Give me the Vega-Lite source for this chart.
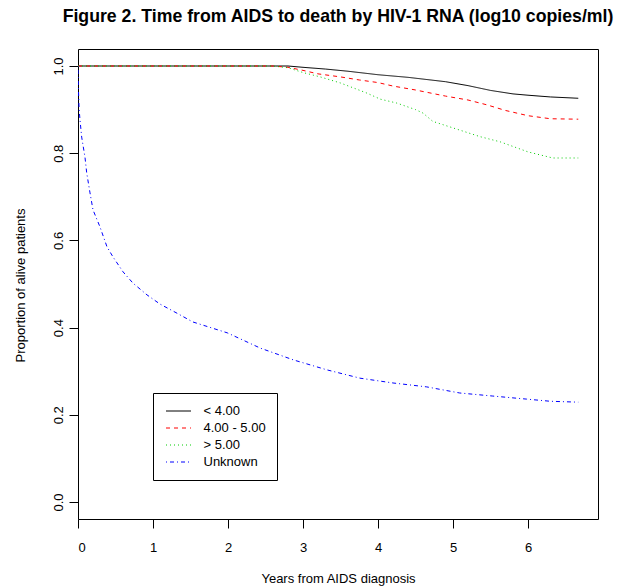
{
  "$schema": "https://vega.github.io/schema/vega-lite/v6.json",
  "width": 520,
  "height": 470,
  "autosize": {"type": "none"},
  "padding": {"left": 78, "top": 49, "right": 24, "bottom": 69},
  "background": "white",
  "title": {
    "text": "Figure 2. Time from AIDS to death by HIV-1 RNA (log10 copies/ml)",
    "font": "Liberation Sans",
    "fontSize": 17.7,
    "fontWeight": "bold",
    "color": "black",
    "anchor": "middle",
    "offset": 23
  },
  "config": {
    "view": {"stroke": "black", "strokeWidth": 1},
    "font": "Liberation Sans",
    "axis": {
      "grid": false,
      "domain": false,
      "tickColor": "black",
      "tickSize": 9,
      "labelColor": "black",
      "labelFont": "Liberation Sans",
      "labelFontSize": 13,
      "titleFont": "Liberation Sans",
      "titleFontSize": 13,
      "titleFontWeight": "normal",
      "titleColor": "black"
    }
  },
  "datasets": {
    "curves": [
      {"t": 0, "s": 1, "g": "< 4.00"},
      {"t": 2.8, "s": 1, "g": "< 4.00"},
      {"t": 3.0, "s": 0.997, "g": "< 4.00"},
      {"t": 3.3, "s": 0.993, "g": "< 4.00"},
      {"t": 3.6, "s": 0.988, "g": "< 4.00"},
      {"t": 4.0, "s": 0.98, "g": "< 4.00"},
      {"t": 4.4, "s": 0.974, "g": "< 4.00"},
      {"t": 4.9, "s": 0.964, "g": "< 4.00"},
      {"t": 5.2, "s": 0.955, "g": "< 4.00"},
      {"t": 5.5, "s": 0.944, "g": "< 4.00"},
      {"t": 5.8, "s": 0.936, "g": "< 4.00"},
      {"t": 6.0, "s": 0.933, "g": "< 4.00"},
      {"t": 6.3, "s": 0.929, "g": "< 4.00"},
      {"t": 6.67, "s": 0.926, "g": "< 4.00"},
      {"t": 0, "s": 1, "g": "4.00 - 5.00"},
      {"t": 2.6, "s": 1, "g": "4.00 - 5.00"},
      {"t": 2.8, "s": 0.997, "g": "4.00 - 5.00"},
      {"t": 3.0, "s": 0.99, "g": "4.00 - 5.00"},
      {"t": 3.2, "s": 0.982, "g": "4.00 - 5.00"},
      {"t": 3.5, "s": 0.975, "g": "4.00 - 5.00"},
      {"t": 3.75, "s": 0.968, "g": "4.00 - 5.00"},
      {"t": 4.0, "s": 0.962, "g": "4.00 - 5.00"},
      {"t": 4.2, "s": 0.954, "g": "4.00 - 5.00"},
      {"t": 4.5, "s": 0.945, "g": "4.00 - 5.00"},
      {"t": 4.9, "s": 0.931, "g": "4.00 - 5.00"},
      {"t": 5.2, "s": 0.922, "g": "4.00 - 5.00"},
      {"t": 5.45, "s": 0.911, "g": "4.00 - 5.00"},
      {"t": 5.7, "s": 0.898, "g": "4.00 - 5.00"},
      {"t": 6.0, "s": 0.886, "g": "4.00 - 5.00"},
      {"t": 6.3, "s": 0.879, "g": "4.00 - 5.00"},
      {"t": 6.67, "s": 0.878, "g": "4.00 - 5.00"},
      {"t": 0, "s": 1, "g": "> 5.00"},
      {"t": 2.6, "s": 1, "g": "> 5.00"},
      {"t": 2.8, "s": 0.996, "g": "> 5.00"},
      {"t": 3.0, "s": 0.985, "g": "> 5.00"},
      {"t": 3.23, "s": 0.975, "g": "> 5.00"},
      {"t": 3.5, "s": 0.961, "g": "> 5.00"},
      {"t": 3.85, "s": 0.938, "g": "> 5.00"},
      {"t": 4.03, "s": 0.924, "g": "> 5.00"},
      {"t": 4.25, "s": 0.915, "g": "> 5.00"},
      {"t": 4.5, "s": 0.9, "g": "> 5.00"},
      {"t": 4.6, "s": 0.892, "g": "> 5.00"},
      {"t": 4.73, "s": 0.873, "g": "> 5.00"},
      {"t": 5.0, "s": 0.858, "g": "> 5.00"},
      {"t": 5.36, "s": 0.838, "g": "> 5.00"},
      {"t": 5.63, "s": 0.826, "g": "> 5.00"},
      {"t": 6.0, "s": 0.803, "g": "> 5.00"},
      {"t": 6.33, "s": 0.789, "g": "> 5.00"},
      {"t": 6.67, "s": 0.789, "g": "> 5.00"},
      {"t": 0, "s": 1, "g": "Unknown"},
      {"t": 0.005, "s": 0.95, "g": "Unknown"},
      {"t": 0.015, "s": 0.9, "g": "Unknown"},
      {"t": 0.027, "s": 0.876, "g": "Unknown"},
      {"t": 0.049, "s": 0.837, "g": "Unknown"},
      {"t": 0.093, "s": 0.791, "g": "Unknown"},
      {"t": 0.116, "s": 0.755, "g": "Unknown"},
      {"t": 0.16, "s": 0.709, "g": "Unknown"},
      {"t": 0.2, "s": 0.67, "g": "Unknown"},
      {"t": 0.293, "s": 0.631, "g": "Unknown"},
      {"t": 0.387, "s": 0.585, "g": "Unknown"},
      {"t": 0.467, "s": 0.562, "g": "Unknown"},
      {"t": 0.6, "s": 0.528, "g": "Unknown"},
      {"t": 0.733, "s": 0.502, "g": "Unknown"},
      {"t": 0.92, "s": 0.475, "g": "Unknown"},
      {"t": 1.093, "s": 0.454, "g": "Unknown"},
      {"t": 1.32, "s": 0.433, "g": "Unknown"},
      {"t": 1.53, "s": 0.413, "g": "Unknown"},
      {"t": 1.99, "s": 0.388, "g": "Unknown"},
      {"t": 2.43, "s": 0.353, "g": "Unknown"},
      {"t": 2.87, "s": 0.326, "g": "Unknown"},
      {"t": 3.32, "s": 0.303, "g": "Unknown"},
      {"t": 3.76, "s": 0.284, "g": "Unknown"},
      {"t": 4.2, "s": 0.273, "g": "Unknown"},
      {"t": 4.65, "s": 0.264, "g": "Unknown"},
      {"t": 5.09, "s": 0.25, "g": "Unknown"},
      {"t": 5.53, "s": 0.243, "g": "Unknown"},
      {"t": 5.98, "s": 0.236, "g": "Unknown"},
      {"t": 6.3, "s": 0.231, "g": "Unknown"},
      {"t": 6.67, "s": 0.229, "g": "Unknown"}
    ]
  },
  "layer": [
    {
      "data": {"name": "curves"},
      "mark": {"type": "line", "strokeWidth": 1, "clip": true},
      "encoding": {
        "x": {
          "field": "t",
          "type": "quantitative",
          "scale": {"domain": [0, 6.933], "nice": false, "zero": false},
          "axis": {
            "values": [0, 1, 2, 3, 4, 5, 6],
            "format": "d",
            "labelPadding": 13,
            "title": "Years from AIDS diagnosis",
            "titleX": 260,
            "titleY": 59,
            "titleBaseline": "middle",
            "titleAlign": "center"
          }
        },
        "y": {
          "field": "s",
          "type": "quantitative",
          "scale": {"domain": [-0.039, 1.039], "nice": false, "zero": false},
          "axis": {
            "values": [0, 0.2, 0.4, 0.6, 0.8, 1.0],
            "format": ".1f",
            "labelAngle": 270,
            "labelAlign": "center",
            "labelBaseline": "bottom",
            "labelPadding": 4,
            "title": "Proportion of alive patients",
            "titleX": -58,
            "titleY": 236,
            "titleAngle": 270,
            "titleBaseline": "middle",
            "titleAlign": "center"
          }
        },
        "color": {
          "field": "g",
          "type": "nominal",
          "scale": {
            "domain": ["< 4.00", "4.00 - 5.00", "> 5.00", "Unknown"],
            "range": ["#000000", "#FF0000", "#00CC00", "#0000FF"]
          },
          "legend": {
            "orient": "none",
            "legendX": 75,
            "legendY": 344,
            "title": null,
            "strokeColor": "black",
            "fillColor": "white",
            "padding": 11,
            "symbolType": "M-2,0L2,0",
            "symbolSize": 156,
            "symbolOffset": 7.5,
            "symbolStrokeWidth": 1,
            "labelFont": "Liberation Sans",
            "labelFontSize": 13,
            "labelColor": "black",
            "labelOffset": 18,
            "rowPadding": 3
          }
        },
        "strokeDash": {
          "field": "g",
          "type": "nominal",
          "scale": {
            "domain": ["< 4.00", "4.00 - 5.00", "> 5.00", "Unknown"],
            "range": [[1, 0], [4, 4], [1, 3], [1, 3, 4, 3]]
          },
          "legend": {
            "orient": "none",
            "legendX": 75,
            "legendY": 344,
            "title": null,
            "strokeColor": "black",
            "fillColor": "white",
            "padding": 11,
            "symbolType": "M-2,0L2,0",
            "symbolSize": 156,
            "symbolOffset": 7.5,
            "symbolStrokeWidth": 1,
            "labelFont": "Liberation Sans",
            "labelFontSize": 13,
            "labelColor": "black",
            "labelOffset": 18,
            "rowPadding": 3
          }
        }
      }
    },
    {
      "mark": {"type": "text", "text": "Log-rank<0.001", "font": "Liberation Sans", "fontSize": 11, "color": "black", "align": "center", "baseline": "middle"},
      "encoding": {
        "x": {"datum": 5.913, "type": "quantitative"},
        "y": {"datum": 0.024, "type": "quantitative"}
      }
    }
  ]
}
